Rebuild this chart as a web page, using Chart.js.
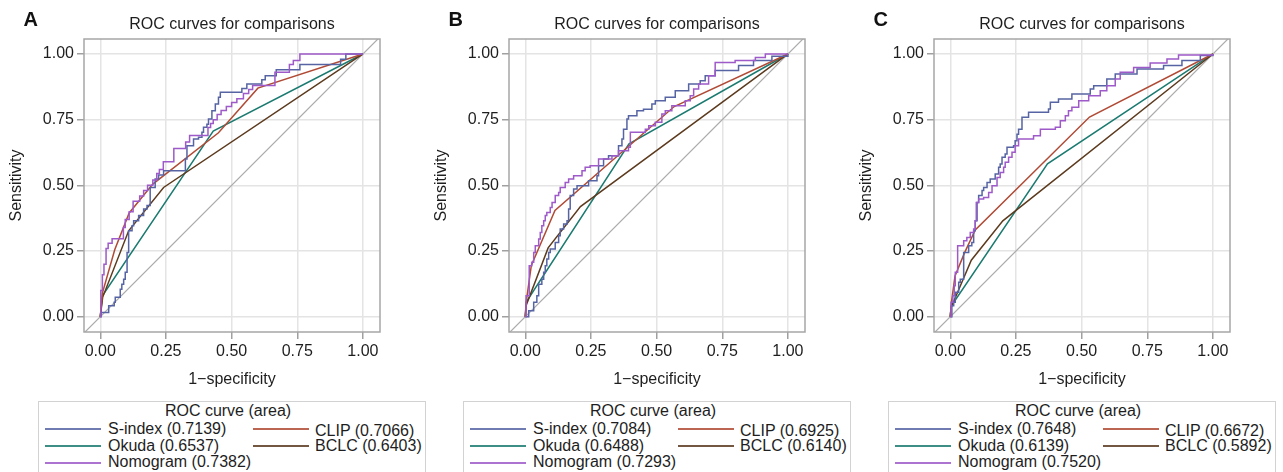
<!DOCTYPE html>
<html>
<head>
<meta charset="utf-8">
<script src="https://cdn.jsdelivr.net/npm/chart.js@4"></script>
<style>
	body {
		margin: 0;
		width: 1283px;
		height: 472px;
		overflow: hidden;
		background: #fff;
		position: relative;
		font-family: "Liberation Sans", Arial, sans-serif;
		color: #1e1e1e;
	}
	.panel { position: absolute; top: 0; width: 425px; height: 472px; }
	.panel canvas { position: absolute; left: 0; top: 0; }
	.letter { position: absolute; left: 23.5px; top: 9px; font-size: 20px; line-height: 20px; font-weight: bold; color: #111; }
	.title { position: absolute; left: 84px; top: 14px; width: 296px; text-align: center; font-size: 16px; line-height: 20px; white-space: nowrap; }
	.legend { position: absolute; left: 38px; top: 401px; width: 388px; height: 80px; box-sizing: border-box; border: 1px solid #d2d2d2; background: #fff; }
	.legend .head { position: absolute; left: 0; top: -1px; width: 378px; text-align: center; font-size: 16px; line-height: 20px; }
	.legend .item { position: absolute; font-size: 16px; line-height: 18px; white-space: nowrap; }
	.legend .swatch { position: absolute; height: 2px; width: 56px; opacity: 0.85; }
</style>
</head>
<body>
<script>
// axis ticks
const tickValues = [0, 0.25, 0.5, 0.75, 1]
const tickLabels = ['0.00', '0.25', '0.50', '0.75', '1.00']

const panelLetters = ['A', 'B', 'C']
const seriesNames = ['S-index', 'CLIP', 'Okuda', 'BCLC', 'Nomogram']
const seriesColors = ['#5664a3', '#b04a35', '#1b7a70', '#5c3a1e', '#9d5ac8']

// areas under the curves, per panel, in seriesNames order
const areasA = ['0.7139', '0.7066', '0.6537', '0.6403', '0.7382']
const areasB = ['0.7084', '0.6925', '0.6488', '0.6140', '0.7293']
const areasC = ['0.7648', '0.6672', '0.6139', '0.5892', '0.7520']

// reference line
const diagonal = [[-0.1, -0.1], [1.1, 1.1]]

// panel A  [1-specificity, sensitivity]
const sIndexA = [[0,0],[0.003,0.016],[0.032,0.042],[0.053,0.055],[0.057,0.074],[0.076,0.105],[0.082,0.124],[0.089,0.143],[0.095,0.169],[0.102,0.245],[0.108,0.327],[0.121,0.346],[0.127,0.365],[0.146,0.385],[0.165,0.41],[0.178,0.423],[0.19,0.492],[0.209,0.524],[0.222,0.539],[0.241,0.556],[0.324,0.6],[0.33,0.651],[0.355,0.676],[0.374,0.683],[0.387,0.702],[0.393,0.721],[0.406,0.733],[0.412,0.753],[0.425,0.784],[0.438,0.81],[0.45,0.835],[0.457,0.854],[0.539,0.869],[0.558,0.886],[0.615,0.902],[0.628,0.917],[0.67,0.94],[0.76,0.96],[0.915,0.98],[0.935,1],[1,1]]
const clipA = [[0,0],[0.008,0.09],[0.055,0.255],[0.11,0.395],[0.2,0.505],[0.45,0.7],[0.6,0.87],[1,1]]
const okudaA = [[0,0],[0.008,0.08],[0.43,0.707],[1,1]]
const bclcA = [[0,0],[0.009,0.074],[0.108,0.327],[0.241,0.492],[1,1]]
const nomoA = [[0,0],[0.002,0.1],[0.008,0.16],[0.014,0.2],[0.022,0.26],[0.03,0.28],[0.045,0.297],[0.088,0.34],[0.095,0.37],[0.11,0.4],[0.125,0.44],[0.15,0.46],[0.165,0.48],[0.18,0.5],[0.2,0.52],[0.215,0.545],[0.225,0.56],[0.24,0.59],[0.28,0.64],[0.325,0.665],[0.34,0.69],[0.41,0.72],[0.42,0.735],[0.43,0.75],[0.445,0.77],[0.46,0.785],[0.48,0.8],[0.5,0.815],[0.52,0.83],[0.545,0.85],[0.565,0.865],[0.58,0.88],[0.665,0.93],[0.72,0.96],[0.735,0.975],[0.76,1],[1,1]]

// panel B
const sIndexB = [[0,0],[0.013,0.023],[0.032,0.055],[0.044,0.08],[0.051,0.124],[0.063,0.143],[0.07,0.169],[0.076,0.194],[0.082,0.22],[0.089,0.245],[0.095,0.258],[0.114,0.283],[0.127,0.308],[0.133,0.334],[0.146,0.353],[0.159,0.365],[0.165,0.41],[0.171,0.461],[0.184,0.486],[0.197,0.499],[0.241,0.518],[0.273,0.537],[0.279,0.575],[0.298,0.6],[0.317,0.613],[0.355,0.651],[0.368,0.676],[0.374,0.714],[0.387,0.753],[0.393,0.765],[0.425,0.784],[0.45,0.79],[0.482,0.81],[0.495,0.822],[0.533,0.835],[0.571,0.86],[0.622,0.886],[0.666,0.898],[0.685,0.917],[0.723,0.937],[0.812,0.956],[0.869,0.975],[0.939,0.991],[1,1]]
const clipB = [[0,0],[0.004,0.06],[0.023,0.195],[0.113,0.405],[0.567,0.8],[1,1]]
const okudaB = [[0,0],[0.003,0.055],[0.395,0.658],[1,1]]
const bclcB = [[0,0],[0.004,0.045],[0.087,0.262],[0.21,0.419],[1,1]]
const nomoB = [[0,0],[0.003,0.08],[0.015,0.194],[0.025,0.207],[0.032,0.245],[0.038,0.27],[0.051,0.296],[0.057,0.321],[0.063,0.346],[0.07,0.365],[0.076,0.385],[0.082,0.397],[0.095,0.416],[0.102,0.435],[0.114,0.461],[0.127,0.473],[0.133,0.492],[0.152,0.511],[0.165,0.524],[0.184,0.537],[0.216,0.556],[0.228,0.569],[0.247,0.575],[0.279,0.6],[0.33,0.613],[0.355,0.632],[0.393,0.645],[0.4,0.702],[0.457,0.714],[0.47,0.727],[0.495,0.74],[0.52,0.772],[0.533,0.784],[0.558,0.803],[0.609,0.822],[0.628,0.841],[0.641,0.867],[0.66,0.886],[0.698,0.917],[0.723,0.968],[0.799,0.975],[0.876,0.987],[0.914,1],[1,1]]

// panel C
const sIndexC = [[0,0],[0.006,0.042],[0.013,0.055],[0.019,0.093],[0.032,0.131],[0.038,0.143],[0.051,0.245],[0.07,0.27],[0.082,0.283],[0.089,0.327],[0.095,0.365],[0.102,0.435],[0.108,0.461],[0.121,0.48],[0.127,0.492],[0.14,0.511],[0.152,0.524],[0.171,0.543],[0.184,0.569],[0.19,0.581],[0.197,0.607],[0.209,0.619],[0.216,0.645],[0.241,0.651],[0.247,0.67],[0.254,0.695],[0.26,0.714],[0.273,0.759],[0.298,0.778],[0.374,0.791],[0.381,0.816],[0.412,0.829],[0.463,0.848],[0.533,0.867],[0.546,0.879],[0.596,0.905],[0.628,0.924],[0.711,0.943],[0.812,0.956],[0.882,0.975],[0.952,0.994],[1,1]]
const clipC = [[0,0],[0.005,0.06],[0.018,0.155],[0.055,0.245],[0.095,0.33],[0.53,0.76],[1,1]]
const okudaC = [[0,0],[0.003,0.04],[0.37,0.582],[1,1]]
const bclcC = [[0,0],[0.003,0.035],[0.08,0.215],[0.2,0.365],[1,1]]
const nomoC = [[0,0],[0.003,0.055],[0.01,0.08],[0.015,0.118],[0.019,0.169],[0.028,0.27],[0.051,0.289],[0.063,0.302],[0.076,0.321],[0.089,0.334],[0.095,0.365],[0.099,0.435],[0.108,0.448],[0.127,0.454],[0.146,0.473],[0.159,0.499],[0.178,0.53],[0.19,0.549],[0.203,0.569],[0.209,0.588],[0.222,0.607],[0.235,0.626],[0.247,0.651],[0.26,0.676],[0.317,0.689],[0.343,0.714],[0.4,0.721],[0.419,0.746],[0.438,0.765],[0.45,0.784],[0.463,0.797],[0.489,0.822],[0.527,0.841],[0.571,0.86],[0.596,0.879],[0.628,0.905],[0.647,0.93],[0.698,0.949],[0.761,0.966],[0.825,0.981],[0.869,0.996],[1,1]]

const panels = [
	{ letter: panelLetters[0], areas: areasA, curves: [sIndexA, clipA, okudaA, bclcA, nomoA] },
	{ letter: panelLetters[1], areas: areasB, curves: [sIndexB, clipB, okudaB, bclcB, nomoB] },
	{ letter: panelLetters[2], areas: areasC, curves: [sIndexC, clipC, okudaC, bclcC, nomoC] },
]

// step curves (S-index, Nomogram) vs staged polylines
const stepped = [true, false, false, false, true]
// drawing order, first on top
const drawOrder = [4, 0, 1, 3, 2]

// legend slots: [swatch left, swatch top, text left, text top]
const legendSlots = [
	[6, 26, 69, 17.5],
	[214, 26, 276, 20],
	[6, 43, 69, 35],
	[214, 43, 276, 35],
	[6, 60, 69, 51],
]

Chart.defaults.font.family = '"Liberation Sans", Arial, sans-serif'
Chart.defaults.color = '#1e1e1e'

const framePlugin = {
	id: 'frame',
	afterDraw(chart) {
		const { ctx, chartArea: a } = chart
		ctx.save()
		ctx.strokeStyle = '#a6a6a6'
		ctx.lineWidth = 1.5
		ctx.strokeRect(a.left, a.top, a.right - a.left, a.bottom - a.top)
		ctx.restore()
	},
}

const toPoints = arr => arr.map(p => ({ x: p[0], y: p[1] }))

function axis(min, max, extra) {
	return Object.assign({
		type: 'linear',
		min,
		max,
		afterBuildTicks: s => { s.ticks = tickValues.map(value => ({ value })) },
		ticks: {
			callback: (v, i) => tickLabels[i],
			font: { size: 16 },
			color: '#1e1e1e',
			autoSkip: false,
			maxRotation: 0,
		},
		grid: { color: '#e4e4e4', lineWidth: 1.5, tickLength: 7, tickColor: '#a0a0a0', tickWidth: 1.5 },
		border: { display: false },
	}, extra)
}

panels.forEach((panel, p) => {
	const wrap = document.createElement('div')
	wrap.className = 'panel'
	wrap.style.left = (p * 425) + 'px'
	document.body.appendChild(wrap)

	const canvas = document.createElement('canvas')
	canvas.width = 425
	canvas.height = 400
	canvas.style.width = '425px'
	canvas.style.height = '400px'
	wrap.appendChild(canvas)

	const letter = document.createElement('div')
	letter.className = 'letter'
	letter.textContent = panel.letter
	wrap.appendChild(letter)

	const title = document.createElement('div')
	title.className = 'title'
	title.textContent = 'ROC curves for comparisons'
	wrap.appendChild(title)

	// legend box
	const legend = document.createElement('div')
	legend.className = 'legend'
	const head = document.createElement('div')
	head.className = 'head'
	head.textContent = 'ROC curve (area)'
	legend.appendChild(head)
	seriesNames.forEach((name, s) => {
		const slot = legendSlots[s]
		const sw = document.createElement('div')
		sw.className = 'swatch'
		sw.style.left = slot[0] + 'px'
		sw.style.top = slot[1] + 'px'
		sw.style.background = seriesColors[s]
		legend.appendChild(sw)
		const item = document.createElement('div')
		item.className = 'item'
		item.style.left = slot[2] + 'px'
		item.style.top = slot[3] + 'px'
		item.textContent = name + ' (' + panel.areas[s] + ')'
		legend.appendChild(item)
	})
	wrap.appendChild(legend)

	const datasets = drawOrder.map(s => ({
		label: seriesNames[s],
		data: toPoints(panel.curves[s]),
		borderColor: seriesColors[s],
		borderWidth: 1.5,
		stepped: stepped[s] ? 'before' : false,
		pointRadius: 0,
		tension: 0,
		fill: false,
	}))
	datasets.push({
		label: 'reference',
		data: toPoints(diagonal),
		borderColor: '#ababab',
		borderWidth: 1.2,
		pointRadius: 0,
		fill: false,
	})

	new Chart(canvas, {
		type: 'line',
		data: { datasets },
		plugins: [framePlugin],
		options: {
			responsive: false,
			animation: false,
			events: [],
			layout: { padding: { top: 39, right: 45, bottom: 0, left: 0 } },
			plugins: {
				legend: { display: false },
				tooltip: { enabled: false },
				title: { display: false },
			},
			scales: {
				x: axis(-0.062, 1.065, {
					afterFit: s => { s.height = 68 },
					title: { display: true, text: '1−specificity', font: { size: 16 }, color: '#1e1e1e', padding: { top: 0, bottom: 10.4 } },
				}),
				y: axis(-0.058, 1.057, {
					afterFit: s => { s.width = 84 },
					title: { display: true, text: 'Sensitivity', font: { size: 16 }, color: '#1e1e1e', padding: { top: 7, bottom: 0 } },
				}),
			},
		},
	})
})
</script>
</body>
</html>
